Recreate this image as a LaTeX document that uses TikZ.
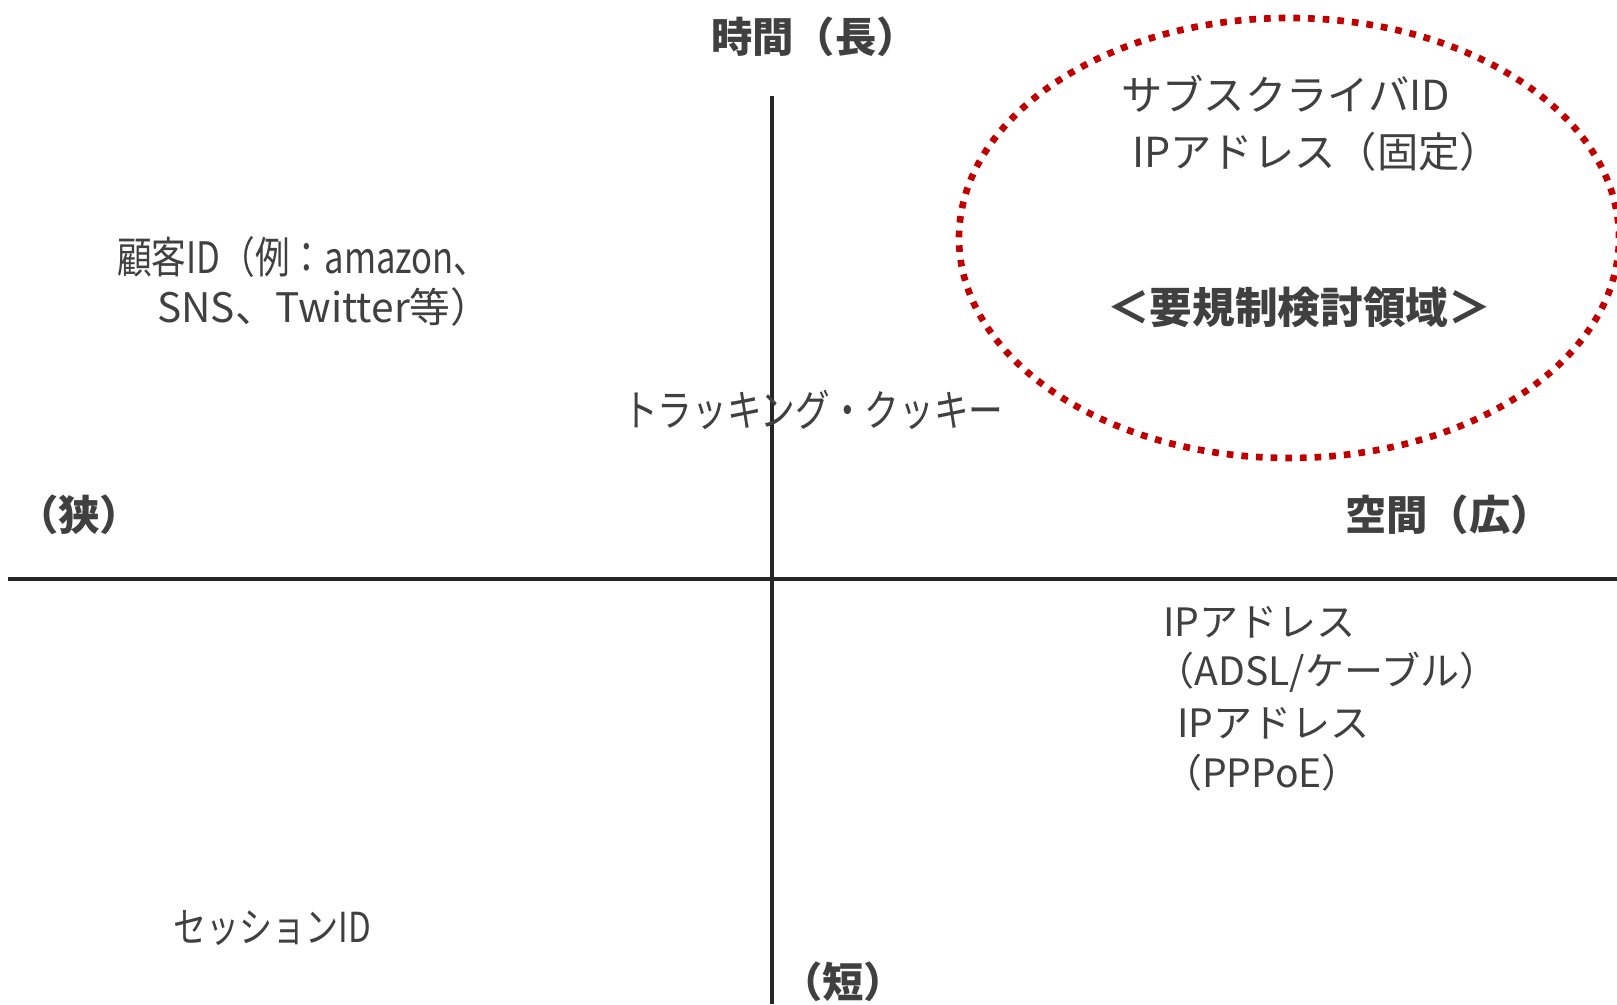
\documentclass[tikz,border=0pt]{standalone}
\usepackage{fontspec}
\usetikzlibrary{shapes.geometric}
\setmainfont{Noto Sans CJK JP}
\newfontfamily\jp{Noto Sans CJK JP}
\newfontfamily\jpc[FakeStretch=0.8]{Noto Sans CJK JP}
\definecolor{txt}{HTML}{404040}
\definecolor{axis}{HTML}{262626}
\definecolor{redd}{HTML}{C00000}
\begin{document}
\begin{tikzpicture}[x=0.75pt,y=-0.75pt,
  lbl/.style={inner sep=0pt,text=txt,font=\jp\bfseries\fontsize{31}{34}\selectfont},
  ell/.style={inner sep=0pt,text=txt,font=\jp\fontsize{31}{34}\selectfont},
  cond/.style={inner sep=0pt,text=txt,font=\jpc\fontsize{32.5}{36}\selectfont},
  ipt/.style={inner sep=0pt,text=txt,font=\jp\fontsize{29.3}{32}\selectfont},
  axisline/.style={draw=axis,line width=3pt}]
\useasboundingbox (0,0) rectangle (1617,1004);
\fill[white] (0,0) rectangle (1617,1004);
% axes
\coordinate (vt) at (772,96);
\coordinate (vb) at (772,1004);
\coordinate (hl) at (8,579);
\coordinate (hr) at (1617,579);
\draw[axisline] (vt) -- (vb);
\draw[axisline] (hl) -- (hr);
% ellipse
\node[draw=redd,line width=5pt,dash pattern=on 5pt off 6pt,ellipse,minimum width=495pt,minimum height=330pt,inner sep=0pt] (reg) at (1289,238) {};
% axis labels
\node[lbl,anchor=west] (tlong) at (711,37) {時間（長）};
\node[lbl] (snarrow) at (79,515) {（狭）};
\node[lbl,anchor=west] (swide) at (1345,515) {空間（広）};
\node[lbl] (tshort) at (843,982) {（短）};
% ellipse contents
\node[ell,anchor=west] (sub) at (1121,94) {サブスクライバID};
\node[ell,anchor=west] (ipfix) at (1132,152) {IPアドレス（固定）};
\node[inner sep=0pt,text=txt,font=\jp\bfseries\fontsize{32}{34}\selectfont] (req) at (1299,307) {＜要規制検討領域＞};
% left texts
\node[cond,anchor=west] (cust1) at (117,257) {顧客ID（例：amazon、};
\node[inner sep=0pt,text=txt,font=\jp\fontsize{30.5}{34}\selectfont,anchor=west] (cust2) at (157,307) {SNS、Twitter等）};
\node[cond,anchor=west] (track) at (623,410) {トラッキング・クッキー};
\node[cond,anchor=west,font=\jpc\fontsize{31}{34}\selectfont] (sess) at (173,928) {セッションID};
% bottom right
\node[ipt,anchor=west] (ip1) at (1163,622) {IPアドレス};
\node[ipt] (ip2) at (1327,672) {（ADSL/ケーブル）};
\node[ipt,anchor=west] (ip3) at (1177,723) {IPアドレス};
\node[ipt] (ip4) at (1262,773) {（PPPoE）};
\end{tikzpicture}
\end{document}
